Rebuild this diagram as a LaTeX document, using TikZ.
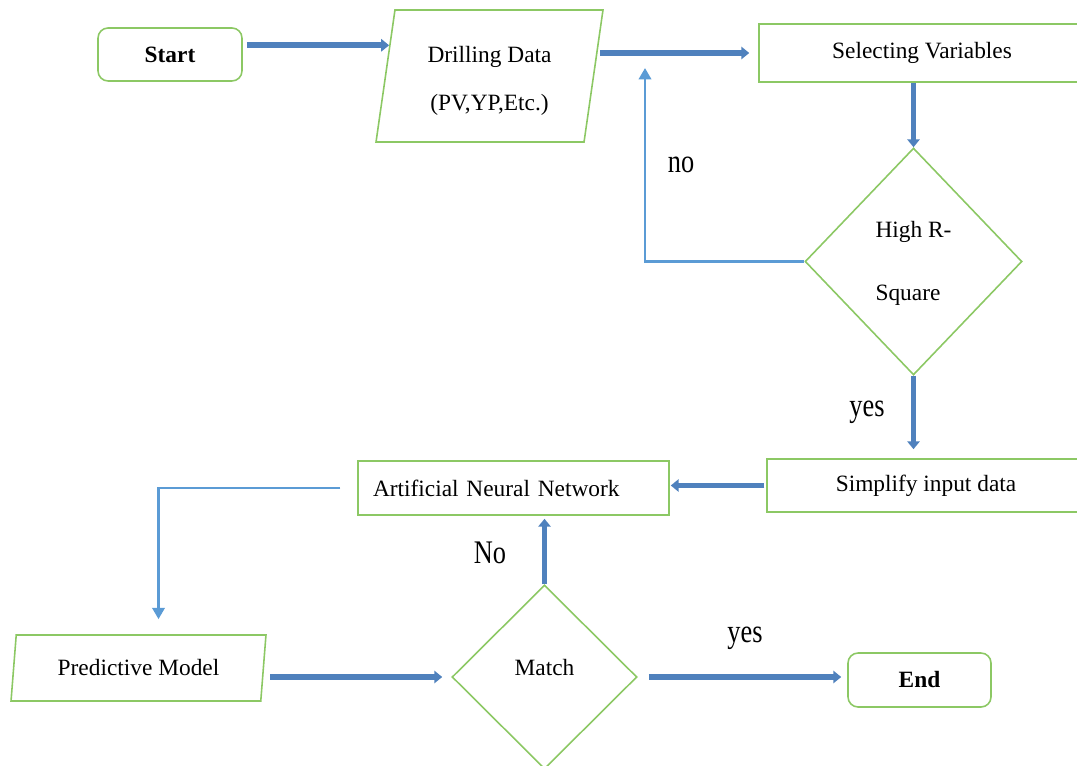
\documentclass[tikz,border=0pt]{standalone}
\usepackage{fontspec}
\setmainfont{Liberation Serif}
\usepackage{graphicx}
\usetikzlibrary{shapes.geometric,arrows.meta,calc}
\definecolor{verde}{RGB}{140,200,100}
\definecolor{azul}{RGB}{79,129,189}
\definecolor{celeste}{RGB}{91,155,213}

\begin{document}
\begin{tikzpicture}[x=0.02cm, y=-0.02cm,
  caja/.style={draw=verde, line width=0.9pt, fill=white, inner sep=2pt, font=\fontsize{13.3}{16}\selectfont},
  extremo/.style={caja, rounded corners=0.2cm, font=\fontsize{13.3}{16}\selectfont\bfseries},
  datos/.style={caja, trapezium, trapezium stretches body, trapezium left angle=77.5, trapezium right angle=102.5},
  rombo/.style={caja, diamond, inner sep=0pt},
  flecha/.style={draw=azul, line width=3.2pt, -{Triangle[width=7pt,length=4.5pt]}},
  retorno/.style={draw=celeste, line width=1.6pt, -{Triangle[width=7pt,length=6.5pt]}},
  etiqueta/.style={font=\fontsize{15}{18}\selectfont}]
  \useasboundingbox (0,0) rectangle (1077,766);
  % la fila de arriba
  \node[extremo, minimum width=2.88cm, minimum height=1.06cm] (start) at (170,54.5) {Start};
  \node[datos, align=center, minimum width=4.54cm, minimum height=2.64cm] (dd) at (489.5,76)
    {\rule{0pt}{0.52cm}Drilling Data\\[11pt](PV,YP,Etc.)};
  \node[caja, minimum width=6.52cm, minimum height=1.16cm] (sel) at (922,53) {Selecting Variables};
  % la pregunta
  \node[rombo, align=left, minimum width=4.34cm, minimum height=4.54cm] (hr) at (913.5,261.5)
    {\rule{0pt}{0.4cm}High R-\\[20pt]Square};
  % la fila del medio
  \node[caja, minimum width=6.36cm, minimum height=1.06cm] (ds) at (926,485.5) {Simplify input data};
  \node[caja, text width=5.62cm, inner xsep=0.3cm, align=left, minimum height=1.08cm] (ann) at (513.5,488)
    {Artificial Neural Network};
  % la fila de abajo
  \node[datos, minimum width=5.1cm, minimum height=1.32cm] (pm) at (138.5,668) {Predictive Model};
  \node[rombo, text depth=0.4cm, minimum width=3.7cm, minimum height=3.68cm] (m) at (544.5,677) {Match};
  \node[extremo, minimum width=2.86cm, minimum height=1.08cm] (end) at (919.5,680) {End};
  % las flechas
  \coordinate (ddin) at ($(dd.top left corner)!0.27!(dd.bottom left corner)$);
  \coordinate (vuelta) at (645,68);
  \draw[flecha, shorten <=0.08cm] (start.east |- ddin) -- (ddin);
  \draw[flecha, shorten <=0.12cm, shorten >=0.18cm] (dd.east |- sel.west) -- (sel.west);
  \draw[flecha] (hr.north |- sel.south) -- (hr.north);
  \draw[retorno] (hr.west) -| (vuelta);
  \draw[flecha, line width=2.4pt, shorten >=0.18cm] (hr.south) -- (hr.south |- ds.north);
  \draw[flecha, shorten <=0.04cm, shorten >=0.02cm] (ds.west) -- (ds.west -| ann.east);
  \draw[retorno, shorten <=0.34cm] (ann.west) -| ([xshift=0.4cm, yshift=0.3cm]pm.north);
  \draw[flecha, shorten <=0.12cm, shorten >=0.18cm] (pm.east |- m.west) -- (m.west);
  \draw[flecha, shorten >=0.06cm] (m.north) -- (m.north |- ann.south);
  \draw[flecha, shorten <=0.22cm, shorten >=0.12cm] (m.east) -- (m.east -| end.west);
  % las etiquetas
  \node[etiqueta] (no1) at (681,165) {\scalebox{1}[1.25]{no}};
  \node[etiqueta] (si1) at (867,412) {\scalebox{1}[1.25]{yes}};
  \node[etiqueta] (no2) at (490,553) {\scalebox{1}[1.25]{No}};
  \node[etiqueta] (si2) at (745,638) {\scalebox{1}[1.25]{yes}};
\end{tikzpicture}
\end{document}
